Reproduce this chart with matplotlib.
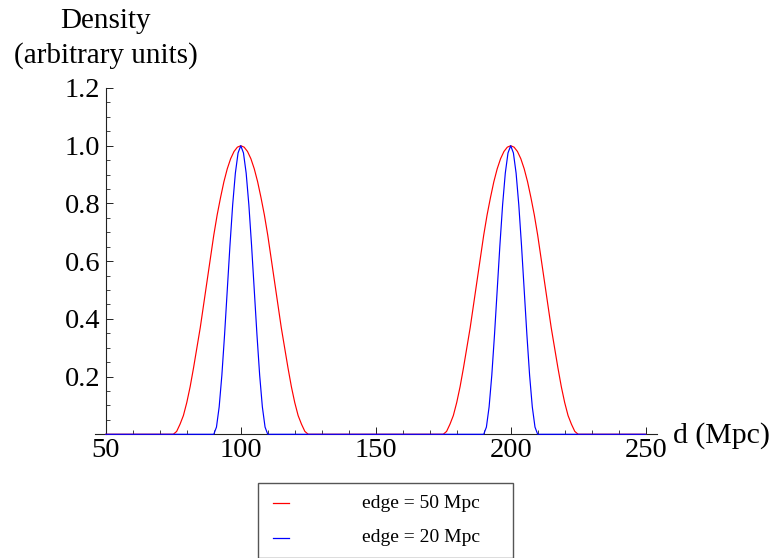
import matplotlib
matplotlib.use("Agg")
import matplotlib.pyplot as plt
from matplotlib.ticker import MultipleLocator, FixedLocator
from matplotlib.patches import Rectangle
from matplotlib.lines import Line2D

plt.rcParams['font.family'] = ['Liberation Serif', 'DejaVu Serif']

# bump centres (Mpc)
centres = [100, 200]

# red curve (edge = 50 Mpc): distance from centre and density
red_offsets = [0, 1.25, 2.5, 3.75, 5, 6.25, 7.5, 8.75, 10, 11.25, 12.5,
               13.75, 15, 16.25, 17.5, 18.75, 20, 21.25, 22.5, 23.75, 25]
red_density = [1.0, 0.995, 0.98, 0.955, 0.92, 0.875, 0.82, 0.76, 0.69, 0.61, 0.53,
               0.45, 0.37, 0.30, 0.23, 0.165, 0.11, 0.065, 0.035, 0.01, 0.0]

# blue curve (edge = 20 Mpc)
blue_offsets = [0, 1, 2, 3, 4, 5, 6, 7, 8, 9, 10]
blue_density = [1.0, 0.975, 0.905, 0.795, 0.655, 0.50, 0.345, 0.205, 0.095, 0.025, 0.0]

labels = ['edge = 50 Mpc', 'edge = 20 Mpc']
colors = ['#ff0000', '#0000ff']

x_range = (50, 250)


def build(offsets, dens):
    d = [x_range[0]]
    y = [0.0]
    for c in centres:
        for t, v in zip(offsets[::-1], dens[::-1]):
            d.append(c - t)
            y.append(v)
        for t, v in zip(offsets[1:], dens[1:]):
            d.append(c + t)
            y.append(v)
    d.append(x_range[1])
    y.append(0.0)
    return d, y


W, H = 772, 558
fig = plt.figure(figsize=(W / 100, H / 100), dpi=100)
ax = fig.add_axes([95 / W, 1 - 434.3 / H, 562 / W, (434.3 - 88) / H])

rd, ry = build(red_offsets, red_density)
bd, by = build(blue_offsets, blue_density)
ax.plot(rd, ry, color=colors[0], lw=0.85, clip_on=False, zorder=3)
ax.plot(bd, by, color=colors[1], lw=0.85, clip_on=False, zorder=4)

ax.set_xlim(46, 254.2)
ax.set_ylim(0, 1.2)

for s in ['top', 'right']:
    ax.spines[s].set_visible(False)
ax.spines['left'].set_position(('data', 50))
ax.spines['left'].set_bounds(0, 1.2)
ax.spines['bottom'].set_position(('data', 0))
for s in ['left', 'bottom']:
    ax.spines[s].set_linewidth(0.8)
    ax.spines[s].set_color('#222222')

ax.xaxis.set_major_locator(FixedLocator([50, 100, 150, 200, 250]))
ax.xaxis.set_minor_locator(MultipleLocator(10))
ax.yaxis.set_major_locator(FixedLocator([0.2, 0.4, 0.6, 0.8, 1.0, 1.2]))
ax.yaxis.set_minor_locator(FixedLocator([0.05 * i for i in range(1, 24)]))
ax.yaxis.set_major_formatter(plt.FuncFormatter(lambda v, p: f'{v:.1f}'))

ax.tick_params(axis='both', which='major', direction='in', length=5, width=0.7,
               labelsize=20.5, color='#222222')
ax.tick_params(axis='both', which='minor', direction='in', length=3, width=0.6,
               color='#222222')
ax.tick_params(axis='x', which='major', pad=3)
ax.tick_params(axis='y', which='major', pad=4)

# axis labels, placed like the original
fig.text(106 / W, 1 - 28 / H, 'Density', ha='center', va='baseline', fontsize=21)
fig.text(106 / W, 1 - 63 / H, '(arbitrary units)', ha='center', va='baseline', fontsize=21)
fig.text(673 / W, 1 - 443 / H, 'd (Mpc)', ha='left', va='baseline', fontsize=21.5)

# legend box (runs off the bottom of the image)
fig.add_artist(Rectangle((258 / W, 0), (513 - 258) / W, (558 - 482.7) / H,
                         transform=fig.transFigure, fill=False,
                         edgecolor='#555555', lw=1.0))
for i, (lab, col) in enumerate(zip(labels, colors)):
    yy = 1 - (503 + 35 * i) / H
    fig.add_artist(Line2D([273 / W, 289 / W], [yy, yy], transform=fig.transFigure,
                          color=col, lw=0.9))
    fig.text(362 / W, yy, lab, ha='left', va='center', fontsize=14)

fig.savefig('out.png', dpi=100)
